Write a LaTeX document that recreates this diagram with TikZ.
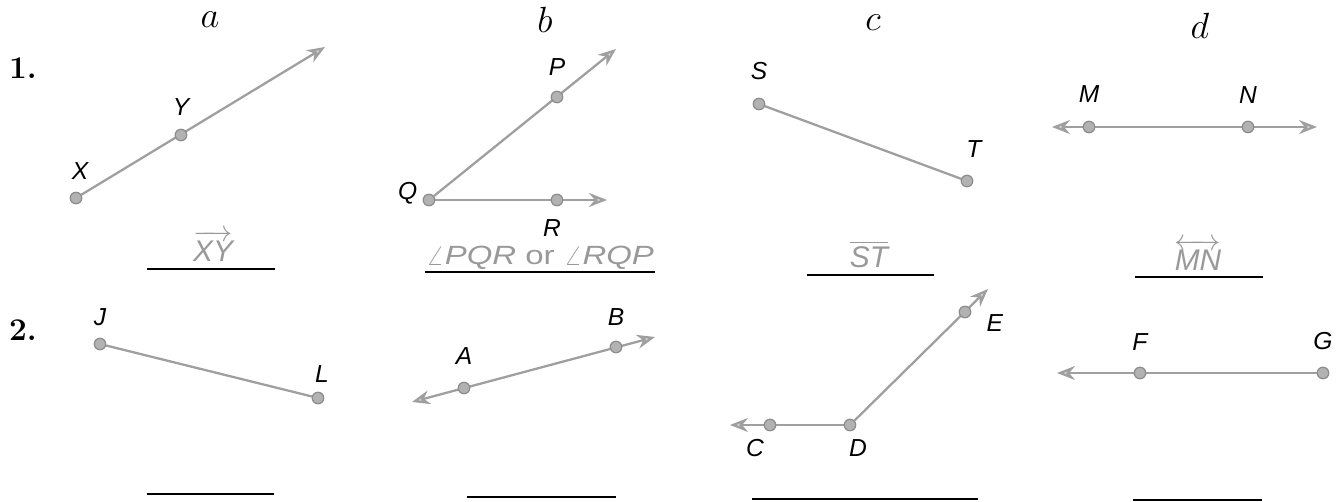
\documentclass[tikz,border=0pt]{standalone}
\usepackage{amsmath,fontspec}
\usetikzlibrary{arrows.meta,positioning,backgrounds}
\newfontfamily\lblfont{Liberation Sans}

\begin{document}
\begin{tikzpicture}[
  x=0.02cm, y=-0.02cm,
  pt/.style={circle,draw=gray!90,fill=gray!60,line width=0.7pt,inner sep=0pt,minimum size=2.3mm},
  lbl/.style={inner sep=0pt,font=\lblfont\itshape\fontsize{14}{16}\selectfont},
  ans/.style={anchor=base,inner sep=0pt,text=gray!80,font=\lblfont\itshape\fontsize{17}{20}\selectfont},
  col/.style={font=\fontsize{21}{24}\selectfont},
  num/.style={font=\bfseries\fontsize{18}{21}\selectfont},
  seg/.style={draw=gray!75,line width=1.3pt},
  ray/.style={seg,-{Stealth[length=3.6mm,width=2.8mm,fill=gray!30]}},
  both/.style={seg,{Stealth[length=3.6mm,width=2.8mm,fill=gray!30]}-{Stealth[length=3.6mm,width=2.8mm,fill=gray!30]}},
  blank/.style={line width=1.2pt}
]
\useasboundingbox (0,0) rectangle (1340,502);

% headings
\node[col] (ha) at (210,20) {$a$};
\node[col] (hb) at (545,20) {$b$};
\node[col] (hc) at (873,23) {$c$};
\node[col] (hd) at (1200,26) {$d$};
\node[num] (n1) at (23,68) {1.};
\node[num] (n2) at (23,330) {2.};

% row 1
\node[pt] (X) at (76,198) {};
\node[pt] (Y) at (181,135) {};
\coordinate (tY) at (325,47);
\node[lbl,above=2.4mm of X,xshift=0.8mm] (lX) {X};
\node[lbl,above=2.6mm of Y] (lY) {Y};

\node[pt] (Q) at (429,200) {};
\node[pt] (P) at (557,97) {};
\node[pt] (R) at (557,200) {};
\coordinate (tP) at (616,49);
\coordinate (tR) at (607,200);
\node[lbl,above=3mm of P] (lP) {P};
\node[lbl,left=1mm of Q,yshift=1.4mm] (lQ) {Q};
\node[lbl,below=2.6mm of R,xshift=-1mm] (lR) {R};

\node[pt] (S) at (759,104) {};
\node[pt] (T) at (967,181) {};
\node[lbl,above=3.6mm of S] (lS) {S};
\node[lbl,above=3.4mm of T,xshift=1.4mm] (lT) {T};

\node[pt] (M) at (1089,127) {};
\node[pt] (N) at (1248,127) {};
\coordinate (tM) at (1052,127);
\coordinate (tN) at (1317,127);
\node[lbl,above=3.6mm of M] (lM) {M};
\node[lbl,above=3.4mm of N] (lN) {N};

% row 2
\node[pt] (J) at (100,344) {};
\node[pt] (L) at (318,398) {};
\node[lbl,above=2.4mm of J] (lJ) {J};
\node[lbl,above=1.8mm of L,xshift=0.8mm] (lL) {L};

\node[pt] (A) at (464,388) {};
\node[pt] (B) at (616,347) {};
\coordinate (tA) at (412,402);
\coordinate (tB) at (655,337);
\node[lbl,above=3.4mm of A] (lA) {A};
\node[lbl,above=3mm of B] (lB) {B};

\node[pt] (C) at (770,425) {};
\node[pt] (D) at (850,425) {};
\node[pt] (E) at (965,312) {};
\coordinate (tC) at (730,425);
\coordinate (tE) at (988,289);
\node[lbl,below=1.6mm of C,xshift=-3mm] (lC) {C};
\node[lbl,below=1.6mm of D,xshift=1.6mm] (lD) {D};
\node[lbl,right=3mm of E,yshift=-2.2mm] (lE) {E};

\node[pt] (F) at (1140,373) {};
\node[pt] (G) at (1323,373) {};
\coordinate (tF) at (1057,373);
\node[lbl,above=3.2mm of F] (lF) {F};
\node[lbl,above=3.4mm of G] (lG) {G};

% answers
\node[ans] (aXY) at (213,262) {$\overrightarrow{\mbox{XY}}$};
\node[ans,font=\lblfont\itshape\fontsize{15}{18}\selectfont] (aPQR) at (540,265) {\scalebox{1.25}[1]{$\angle$PQR {\upshape or} $\angle$RQP}};
\node[ans] (aST) at (869,268) {$\overline{\mbox{ST}}$};
\node[ans] (aMN) at (1198,271) {$\overleftrightarrow{\mbox{MN}}$};

\draw[blank] (147,269) -- (275,269);
\draw[blank] (425,272) -- (655,272);
\draw[blank] (807,275) -- (934,275);
\draw[blank] (1135,277) -- (1263,277);
\draw[blank] (147,494) -- (274,494);
\draw[blank] (467,497) -- (616,497);
\draw[blank] (752,499) -- (978,499);
\draw[blank] (1133,500) -- (1262,500);

\begin{scope}[on background layer]
\draw[ray] (X) -- (tY);
\draw[ray] (Q) -- (tP);
\draw[ray] (Q) -- (tR);
\draw[seg] (S) -- (T);
\draw[both] (tM) -- (tN);
\draw[seg] (J) -- (L);
\draw[both] (tA) -- (tB);
\draw[ray] (D) -- (tC);
\draw[ray] (D) -- (tE);
\draw[ray] (G) -- (tF);
\end{scope}
\end{tikzpicture}
\end{document}
